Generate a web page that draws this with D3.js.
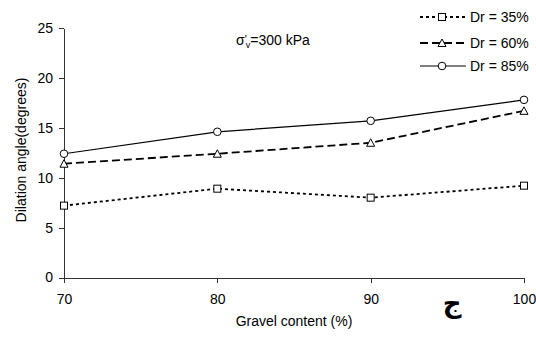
<!DOCTYPE html>
<html lang="en">
<head>
<meta charset="UTF-8">
<title>Dilation angle vs gravel content</title>
<style>
  body { margin: 0; background: #fff; }
  svg text { font-family: "Liberation Sans", Arial, sans-serif; fill: #000; }
  .axis path, .axis line { stroke: #333; shape-rendering: crispEdges; }
  .axis text { font-size: 14px; font-family: "Liberation Sans", Arial, sans-serif; }
</style>
</head>
<body>
<div id="chart"></div>
<script src="https://cdnjs.cloudflare.com/ajax/libs/d3/7.8.5/d3.min.js"></script>
<script>
var gravel = [70, 80, 90, 100];
var dr35 = [7.2, 8.9, 8.0, 9.2];
var dr60 = [11.4, 12.4, 13.5, 16.7];
var dr85 = [12.4, 14.6, 15.7, 17.8];
var xTicks = [70, 80, 90, 100];
var yTicks = [0, 5, 10, 15, 20, 25];

var series = [
  { name: "Dr = 35%", values: dr35, dash: "3,3", marker: "square" },
  { name: "Dr = 60%", values: dr60, dash: "8,4", marker: "triangle" },
  { name: "Dr = 85%", values: dr85, dash: null, marker: "circle" }
];

var width = 536, height = 338;
var svg = d3.select("#chart").append("svg")
  .attr("width", width)
  .attr("height", height);

var x = d3.scaleLinear().domain([70, 100]).range([64, 524]);
var y = d3.scaleLinear().domain([0, 25]).range([277.5, 28]);

// axes
svg.append("g")
  .attr("class", "axis")
  .attr("transform", "translate(0," + y(0) + ")")
  .call(d3.axisBottom(x).tickValues(xTicks).tickSize(5).tickSizeOuter(0).tickPadding(12));

svg.append("g")
  .attr("class", "axis")
  .attr("transform", "translate(" + x(70) + ",0)")
  .call(d3.axisLeft(y).tickValues(yTicks).tickSize(5).tickSizeOuter(0).tickPadding(6));

// labels
svg.append("text")
  .attr("transform", "translate(26," + 150 + ") rotate(-90)")
  .attr("text-anchor", "middle")
  .style("font-size", "14px")
  .text("Dilation angle(degrees)");

svg.append("text")
  .attr("x", 294)
  .attr("y", 326)
  .attr("text-anchor", "middle")
  .style("font-size", "14px")
  .text("Gravel content (%)");

var note = svg.append("text")
  .attr("x", 236)
  .attr("y", 45)
  .style("font-size", "14px");
note.append("tspan").text("σ");
note.append("tspan").attr("dy", -2).style("font-size", "11px").text("'");
note.append("tspan").attr("dx", -1).attr("dy", 5).style("font-size", "9px").text("v");
note.append("tspan").attr("dy", -3).text("=300 kPa");

svg.append("text")
  .attr("x", 452)
  .attr("y", 312)
  .attr("text-anchor", "middle")
  .style("font-family", "'DejaVu Sans', sans-serif")
  .style("font-size", "26px")
  .style("font-weight", "bold")
  .text("ج");

var line = d3.line()
  .x(function (d, i) { return x(gravel[i]); })
  .y(function (d) { return y(d); });

function drawMarker(g, type, cx, cy) {
  if (type === "square") {
    g.append("rect").attr("x", cx - 3.5).attr("y", cy - 3.5)
      .attr("width", 7).attr("height", 7)
      .attr("fill", "#fff").attr("stroke", "#000").attr("stroke-width", 1);
  } else if (type === "triangle") {
    g.append("path")
      .attr("d", "M" + cx + "," + (cy - 4) + "L" + (cx + 4) + "," + (cy + 3.5) + "L" + (cx - 4) + "," + (cy + 3.5) + "Z")
      .attr("fill", "#fff").attr("stroke", "#000").attr("stroke-width", 1);
  } else {
    g.append("circle").attr("cx", cx).attr("cy", cy).attr("r", 3.8)
      .attr("fill", "#fff").attr("stroke", "#000").attr("stroke-width", 1);
  }
}

series.forEach(function (s) {
  var g = svg.append("g");
  g.append("path")
    .attr("d", line(s.values))
    .attr("fill", "none")
    .attr("stroke", "#000")
    .attr("stroke-width", s.dash ? 1.8 : 1.2)
    .attr("stroke-dasharray", s.dash);
  s.values.forEach(function (v, i) {
    drawMarker(g, s.marker, x(gravel[i]), y(v));
  });
});

// legend
var legend = svg.selectAll(".legend")
  .data(series)
  .enter().append("g")
  .attr("class", "legend")
  .attr("transform", function (d, i) { return "translate(0," + [17, 43, 66][i] + ")"; });

legend.append("line")
  .attr("x1", 420).attr("x2", 466)
  .attr("y1", 0).attr("y2", 0)
  .attr("stroke", "#000")
  .attr("stroke-width", function (d) { return d.dash ? 1.8 : 1.2; })
  .attr("stroke-dasharray", function (d) { return d.dash; });

legend.each(function (d) {
  drawMarker(d3.select(this), d.marker, 442, 0);
});

legend.append("text")
  .attr("x", 470).attr("y", 5)
  .style("font-size", "14px")
  .text(function (d) { return d.name; });
</script>
</body>
</html>
